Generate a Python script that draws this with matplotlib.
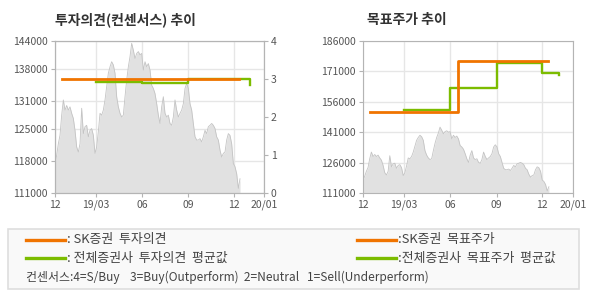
import numpy as np
import matplotlib
matplotlib.use('Agg')
import matplotlib.pyplot as plt
from matplotlib.patches import Rectangle
from matplotlib.lines import Line2D

plt.rcParams['font.family'] = ['Noto Sans CJK KR', 'DejaVu Sans']

# x axis is in days from the left edge of the chart
tick_days = [0, 82, 174, 266, 357, 418]
tick_labels = ['12', '19/03', '06', '09', '12', '20/01']

# stock price
price = [117400, 119200, 121700, 123550, 127900, 131200, 129000, 130000, 129000, 129700,
         128300, 127200, 124600, 121000, 119900, 121700, 129400, 123900, 125400, 125700,
         123200, 124600, 125000, 123550, 119600, 121000, 124300, 128300, 127900, 129000,
         131200, 134100, 137000, 138400, 139500, 138800, 137000, 131900, 129700, 128300,
         127500, 127900, 131900, 135500, 138400, 140600, 143500, 142000, 140200, 141300,
         141700, 141000, 141300, 137700, 139500, 138400, 139100, 137700, 134400, 133700,
         132600, 130400, 127900, 126100, 129700, 131900, 128300, 127500, 127900, 126100,
         125700, 127500, 131200, 129000, 127500, 128300, 129000, 130400, 133700, 134800,
         133700, 130400, 129000, 126100, 123200, 122500, 122500, 122800, 122100, 123200,
         124600, 123900, 125400, 125700, 126100, 125700, 125000, 123200, 122500, 120300,
         118800, 119600, 119900, 122500, 123900, 123500, 121700, 117400, 116700, 115200,
         112000, 114100]
price_days = np.linspace(0, 370, len(price))

# investment opinion (right axis of the left chart)
sk_opinion_days = [13, 368]
sk_opinion = [3.0, 3.0]
avg_opinion_days = [82, 174, 266, 389]
avg_opinion = [2.93, 2.90, 2.99, 2.85]

# target price
sk_target_days = [13, 190, 368]
sk_target = [151000, 176000, 176000]
avg_target_days = [82, 174, 266, 357, 390]
avg_target = [152000, 163000, 175000, 170000, 169000]

orange = '#f07400'
green = '#7cbc00'
grid_c = '#e6e6e6'
spine_c = '#b4b4b4'
tick_c = '#555555'

fig = plt.figure(figsize=(5.9, 3.0), dpi=100)


def style_axes(ax, yticks, ylim):
    ax.set_xlim(0, 418)
    ax.set_ylim(*ylim)
    ax.set_xticks(tick_days)
    ax.set_xticklabels(tick_labels)
    ax.set_yticks(yticks)
    ax.set_yticklabels([str(v) for v in yticks])
    ax.grid(True, color=grid_c, lw=1)
    ax.set_axisbelow(True)
    for s in ax.spines.values():
        s.set_color(spine_c)
    ax.tick_params(colors=spine_c, labelcolor=tick_c, labelsize=7.5, length=3, pad=2)


def draw_price(ax, base):
    ax.fill_between(price_days, price, base, color='#e1e1e1', lw=0, zorder=1)
    ax.plot(price_days, price, color='#c4c4c4', lw=0.6, zorder=2)


# left chart: opinion
ax1 = fig.add_axes([55 / 590, 107 / 300, 209 / 590, 152 / 300])
style_axes(ax1, [111000, 118000, 125000, 131000, 138000, 144000], (111000, 144000))
draw_price(ax1, 111000)
ax1b = ax1.twinx()
ax1b.set_ylim(0, 4)
ax1b.set_yticks([0, 1, 2, 3, 4])
ax1b.tick_params(colors=spine_c, labelcolor=tick_c, labelsize=7.5, length=3, pad=2)
for s in ax1b.spines.values():
    s.set_color(spine_c)
ax1b.step(avg_opinion_days, avg_opinion, where='post', color=green, lw=1.7)
ax1b.plot(sk_opinion_days, sk_opinion, color=orange, lw=2.0)
fig.text(55 / 590, 1 - 20 / 300, '투자의견(컨센서스) 추이', fontsize=10, fontweight='bold',
         color='#333333', va='center', ha='left')

# right chart: target price
ax2 = fig.add_axes([363 / 590, 107 / 300, 210 / 590, 152 / 300])
style_axes(ax2, [111000, 126000, 141000, 156000, 171000, 186000], (111000, 186000))
draw_price(ax2, 111000)
ax2.step(avg_target_days, avg_target, where='post', color=green, lw=1.7, zorder=3)
ax2.step(sk_target_days, sk_target, where='post', color=orange, lw=2.0, zorder=4)
fig.text(367 / 590, 1 - 20 / 300, '목표주가 추이', fontsize=10, fontweight='bold',
         color='#333333', va='center', ha='left')

# legend box
fig.patches.append(Rectangle((8 / 590, 1 - 289 / 300), 571 / 590, 60 / 300,
                             transform=fig.transFigure, facecolor='#f9f9f9',
                             edgecolor='#dedede', lw=1.2))
legend_rows = [
    (26, 240, orange, ': SK증권  투자의견'),
    (26, 258, green, ': 전체증권사  투자의견  평균값'),
    (357, 240, orange, ':SK증권  목표주가'),
    (357, 258, green, ':전체증권사  목표주가  평균값'),
]
for x0, y0, c, label in legend_rows:
    fig.add_artist(Line2D([x0 / 590, (x0 + 39) / 590], [1 - y0 / 300, 1 - y0 / 300],
                          color=c, lw=2.4, transform=fig.transFigure))
    fig.text((x0 + 41) / 590, 1 - y0 / 300, label, fontsize=9.3, color='#444444',
             va='center', ha='left')
fig.text(26 / 590, 1 - 277 / 300,
         '컨센서스:4=S/Buy    3=Buy(Outperform)  2=Neutral   1=Sell(Underperform)',
         fontsize=8.6, color='#444444', va='center', ha='left')

fig.savefig('out.png', dpi=100)
